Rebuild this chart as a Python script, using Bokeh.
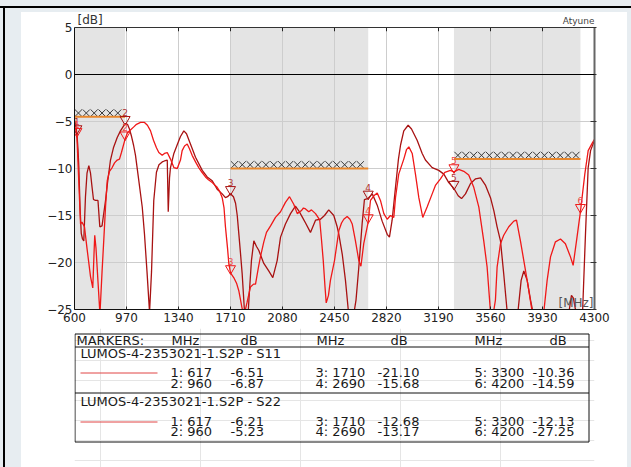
import numpy as np
from bokeh.plotting import figure
from bokeh.layouts import column, row
from bokeh.models import Range1d, LinearAxis, FixedTicker, Span, Label, ColumnDataSource, Div
from bokeh.transform import dodge
from bokeh.core.properties import value
from bokeh.embed import file_html
from bokeh.resources import INLINE

# ---------------- data ----------------
X_TICKS = [600, 970, 1340, 1710, 2080, 2450, 2820, 3190, 3560, 3930, 4300]
Y_TICKS = [-25, -20, -15, -10, -5, 0, 5]

S11_FREQ = [600, 617, 631, 643, 653, 671, 689, 714, 730, 739,
            744, 753, 767, 781, 796, 808, 821, 833, 849, 868,
            885, 904, 920, 934, 960, 977, 998, 1020, 1041, 1070,
            1098, 1119, 1141, 1162, 1183, 1200, 1224, 1240, 1260, 1283,
            1307, 1331, 1354, 1366, 1383, 1402, 1418, 1437, 1461, 1484,
            1507, 1532, 1553, 1580, 1615, 1632, 1651, 1664, 1674, 1689,
            1698, 1710, 1733, 1753, 1769, 1793, 1810, 1827, 1852, 1874,
            1888, 1909, 1923, 1947, 1966, 1995, 2030, 2066, 2101, 2130,
            2160, 2185, 2213, 2229, 2244, 2267, 2286, 2315, 2333, 2345,
            2357, 2370, 2382, 2391, 2407, 2421, 2450, 2481, 2500, 2516,
            2540, 2560, 2576, 2599, 2623, 2638, 2658, 2690, 2706, 2730,
            2754, 2777, 2801, 2825, 2848, 2872, 2884, 2907, 2943, 2962,
            2979, 3003, 3026, 3050, 3078, 3109, 3145, 3168, 3204, 3235,
            3275, 3300, 3334, 3370, 3405, 3441, 3477, 3512, 3536, 3560,
            3574, 3595, 3607, 3631, 3654, 3690, 3726, 3745, 3773, 3797,
            3821, 3857, 3894, 3939, 3963, 3987, 4022, 4058, 4093, 4129,
            4148, 4172, 4200, 4231, 4255, 4284, 4300]
S11_DB = [-5.0, -6.51, -11.6, -15.9, -15.7, -16.2, -18.5, -21.5, -22.7, -19.0,
          -17.1, -18.5, -22.0, -25.5, -21.0, -17.7, -14.0, -11.3, -10.3, -9.9,
          -9.4, -9.1, -9.0, -8.3, -6.87, -6.2, -5.9, -5.6, -5.3, -5.1,
          -5.1, -5.4, -6.0, -7.0, -7.8, -8.3, -8.6, -8.4, -8.3, -9.0,
          -9.9, -10.0, -9.1, -8.1, -7.6, -7.4, -7.9, -8.6, -9.3, -9.9,
          -10.4, -10.9, -11.2, -11.5, -12.0, -12.4, -13.1, -14.2, -16.2, -18.5,
          -20.1, -21.10, -21.6, -22.2, -23.0, -24.9, -25.4, -24.3, -22.6, -22.3,
          -22.3, -20.5, -19.4, -17.8, -16.8, -16.1, -15.2, -14.6, -13.6, -13.0,
          -13.8, -14.8, -14.5, -14.2, -14.3, -14.6, -14.4, -14.8, -15.2, -15.5,
          -17.5, -19.8, -22.5, -24.3, -23.5, -21.9, -19.8, -16.6, -15.8, -15.4,
          -15.1, -15.4, -15.9, -17.7, -19.8, -20.4, -18.0, -15.68, -13.4, -12.9,
          -12.6, -13.4, -14.8, -15.4, -15.0, -15.2, -13.1, -10.6, -9.0, -8.0,
          -7.7, -8.4, -10.6, -13.1, -15.2, -14.1, -12.7, -11.8, -11.1, -10.4,
          -10.2, -10.36, -10.1, -10.3, -10.7, -12.0, -14.1, -17.7, -20.5, -25.3,
          -26.0, -24.0, -20.5, -18.0, -17.1, -16.2, -15.6, -15.5, -17.7, -19.8,
          -21.9, -25.3, -28.0, -25.3, -21.9, -19.4, -17.8, -17.5, -18.0, -19.4,
          -20.3, -17.7, -14.59, -10.6, -8.1, -7.3, -6.9]

S22_FREQ = [600, 617, 625, 631, 639, 648, 657, 666, 678, 689,
            702, 714, 725, 735, 749, 767, 780, 796, 806, 821,
            835, 856, 877, 904, 927, 960, 977, 991, 1006, 1020,
            1034, 1055, 1082, 1098, 1116, 1134, 1148, 1164, 1183, 1201,
            1224, 1240, 1260, 1267, 1276, 1283, 1307, 1333, 1354, 1378,
            1397, 1425, 1461, 1509, 1544, 1580, 1615, 1651, 1674, 1689,
            1710, 1731, 1746, 1758, 1769, 1781, 1793, 1810, 1831, 1845,
            1859, 1876, 1895, 1911, 1947, 1982, 2011, 2042, 2066, 2101,
            2137, 2172, 2196, 2222, 2244, 2279, 2315, 2350, 2379, 2409,
            2445, 2469, 2481, 2505, 2528, 2547, 2571, 2603, 2623, 2647,
            2663, 2690, 2719, 2754, 2789, 2825, 2841, 2860, 2884, 2905,
            2920, 2943, 2974, 2998, 3038, 3074, 3097, 3145, 3192, 3228,
            3263, 3300, 3330, 3354, 3382, 3418, 3454, 3489, 3525, 3560,
            3584, 3607, 3631, 3654, 3679, 3716, 3755, 3778, 3797, 3821,
            3845, 3862, 3987, 4118, 4136, 4150, 4168, 4200, 4215, 4236,
            4255, 4272, 4300]
S22_DB = [-4.8, -6.21, -8.0, -9.9, -14.0, -16.9, -17.5, -17.7, -13.0, -10.5,
          -9.7, -10.5, -12.0, -13.3, -13.4, -13.4, -16.2, -16.1, -15.0, -13.4,
          -11.5, -9.1, -7.8, -6.7, -6.0, -5.23, -5.3, -5.8, -6.6, -7.5,
          -8.6, -11.0, -14.1, -17.0, -21.0, -25.3, -21.0, -13.4, -10.4, -9.6,
          -9.3, -9.2, -9.1, -14.6, -11.0, -9.9, -8.4, -7.4, -6.6, -6.0,
          -6.3, -7.4, -8.8, -10.2, -10.9, -11.3, -12.2, -12.7, -13.1, -13.0,
          -12.68, -13.0, -13.7, -15.0, -16.9, -19.0, -21.2, -25.3, -26.5, -23.0,
          -19.8, -17.7, -18.3, -18.7, -20.1, -20.9, -21.6, -19.8, -17.3, -15.9,
          -14.8, -14.0, -14.5, -15.2, -15.8, -16.8, -15.5, -15.4, -15.0, -14.4,
          -15.0, -16.2, -17.0, -19.1, -21.9, -24.9, -27.0, -24.0, -20.5, -15.8,
          -13.3, -13.17, -12.7, -13.9, -15.6, -17.0, -17.3, -15.5, -12.0, -9.0,
          -7.5, -6.0, -5.4, -5.8, -7.0, -8.4, -9.1, -9.9, -10.2, -10.6,
          -11.5, -12.13, -12.9, -13.2, -12.7, -11.6, -11.1, -11.0, -11.8, -13.1,
          -14.5, -16.2, -17.7, -21.2, -25.3, -26.5, -25.3, -21.9, -20.9, -21.9,
          -24.0, -25.3, -28.0, -25.3, -23.5, -23.8, -25.3, -27.25, -25.3, -16.9,
          -9.9, -8.1, -7.0]

MARKER_FREQ = [617, 960, 1710, 2690, 3300, 4200]
S11_MARKER_DB = [-6.51, -6.87, -21.10, -15.68, -10.36, -14.59]
S22_MARKER_DB = [-6.21, -5.23, -12.68, -13.17, -12.13, -27.25]

BAND_START = [600, 1710, 3300]
BAND_END = [960, 2690, 4200]
BAND_LIMIT = [-4.5, -10.0, -9.0]

TRACE_NAMES = ["LUMOS-4-2353021-1.S2P - S11", "LUMOS-4-2353021-1.S2P - S22"]
HEADER = ["MARKERS:", "MHz", "dB", "MHz", "dB", "MHz", "dB"]

# ---------------- styles ----------------
FONT = "DejaVu Sans"
BG = "#e7edf1"
BRIGHT = "#f01818"
DARK = "#a81212"
GRID = "#cdcdcd"
HATCH_STEP = 56     # MHz between hatch crosses
HATCH_RISE = 0.40   # dB above the limit line
TOP_PAD = 15 / 9.4  # head-room above the top tick (dB) for the unit labels
TICK_DB = 0.4       # length of the inner top ticks (dB)

Y_LO, Y_HI = Y_TICKS[0], Y_TICKS[-1]

# ---------------- chart ----------------
p = figure(frame_width=520, frame_height=297,
           x_range=Range1d(X_TICKS[0], X_TICKS[-1]), y_range=Range1d(Y_LO, Y_HI + TOP_PAD),
           output_backend="svg", toolbar_location=None,
           min_border_left=53, min_border_right=33, min_border_top=0, min_border_bottom=19,
           border_fill_color="white", background_fill_color="white",
           outline_line_color=None)

for ax in (p.xaxis[0], p.yaxis[0]):
    ax.major_label_text_font = FONT
    ax.major_label_text_font_size = "12px"
    ax.major_label_text_color = "#222222"
    ax.minor_tick_line_color = None
    ax.axis_line_color = "#111111"
    ax.major_tick_line_color = "#222222"
p.xaxis.ticker = X_TICKS
p.yaxis.ticker = Y_TICKS
p.yaxis.bounds = (Y_LO, Y_HI)
p.xaxis.major_tick_in = 3
p.xaxis.major_tick_out = 0
p.xaxis.major_label_standoff = 3
p.yaxis.major_tick_in = 0
p.yaxis.major_tick_out = 0
p.yaxis.major_label_standoff = 2
p.xgrid.visible = False
p.ygrid.grid_line_color = GRID

right_axis = LinearAxis(ticker=FixedTicker(ticks=Y_TICKS), bounds=(Y_LO, Y_HI),
                        major_tick_in=4, major_tick_out=2,
                        minor_tick_line_color=None, major_label_text_font_size="1px",
                        major_label_text_color=None, major_label_standoff=0,
                        axis_line_color="#666666", axis_line_width=2,
                        major_tick_line_color="#333333")
p.add_layout(right_axis, "right")

bands = ColumnDataSource(dict(left=BAND_START, right=BAND_END, limit=BAND_LIMIT))
p.quad(left="left", right="right", top=Y_HI, bottom=Y_LO, source=bands,
       fill_color="#e4e4e4", line_color=None, level="image")

# vertical grid lines, limited to the plotted dB span
p.segment(x0=X_TICKS, x1=X_TICKS, y0=Y_LO, y1=Y_HI, line_color=GRID, line_width=1,
          level="underlay")
# top frame line with inner ticks
p.add_layout(Span(location=Y_HI, dimension="width", line_color="#333333", line_width=1))
p.segment(x0=X_TICKS, x1=X_TICKS, y0=Y_HI, y1=Y_HI - TICK_DB, line_color="#222222",
          line_width=1)

hx, hy = [], []
for s, e, lim in zip(BAND_START, BAND_END, BAND_LIMIT):
    xs = np.arange(s + HATCH_STEP / 2, e, HATCH_STEP)
    hx += list(xs)
    hy += [lim + HATCH_RISE] * len(xs)
p.scatter(hx, hy, marker="x", size=10, line_color="#3a3a3a", line_width=1)
p.segment(x0="left", x1="right", y0="limit", y1="limit", source=bands,
          line_color="#e8872c", line_width=2)

p.add_layout(Span(location=0, dimension="width", line_color="black", line_width=1))

p.line(S22_FREQ, S22_DB, line_color=DARK, line_width=1.3)
p.line(S11_FREQ, S11_DB, line_color=BRIGHT, line_width=1.3)

labels = [str(i + 1) for i in range(len(MARKER_FREQ))]
for vals, col, tcol in ((S22_MARKER_DB, DARK, "#b03434"), (S11_MARKER_DB, BRIGHT, "#f04848")):
    src = ColumnDataSource(dict(f=MARKER_FREQ, db=vals, lab=labels))
    p.scatter(x="f", y=dodge("db", 0.45), source=src, marker="inverted_triangle", size=10,
              line_color=col, fill_color=None, line_width=1)
    p.text(x="f", y=dodge("db", 1.2), text="lab", source=src, text_font=value(FONT),
           text_font_size="9px", text_align="center", text_baseline="middle", text_color=tcol)

p.add_layout(Label(x=X_TICKS[0], y=Y_HI, text="[dB]", x_offset=3, y_offset=1,
                   text_baseline="bottom", text_font=FONT, text_font_size="12px",
                   text_color="#333333"))
p.add_layout(Label(x=X_TICKS[-1], y=Y_HI, text="Atyune", x_offset=0, y_offset=2,
                   text_align="right", text_baseline="bottom", text_font=FONT,
                   text_font_size="9px", text_color="#444444"))
p.add_layout(Label(x=X_TICKS[-1], y=Y_LO, text="[MHz]", x_offset=-1, y_offset=0,
                   text_align="right", text_baseline="bottom", text_font=FONT,
                   text_font_size="12px", text_color="#555555"))

# ---------------- marker table ----------------
t = figure(frame_width=520, frame_height=139, x_range=Range1d(74, 594), y_range=Range1d(467, 328),
           min_border_left=53, min_border_right=33, min_border_top=0, min_border_bottom=0,
           x_axis_location=None, y_axis_location=None, toolbar_location=None,
           output_backend="svg", outline_line_color=None,
           border_fill_color="white", background_fill_color="white")
t.quad(left=74.5, right=588.5, top=333.5, bottom=441.5, fill_color=None, line_color="#111111")
t.segment(x0=[74.5, 74.5], x1=[588.5, 588.5], y0=[346.5, 392.5], y1=[346.5, 392.5],
          line_color="#111111")
t.segment(x0=[80, 80], x1=[157, 157], y0=[372.5, 421.5], y1=[372.5, 421.5],
          line_color="#e04444", line_width=1)

tx, ty, tt = [], [], []
for x, h in zip([76, 171, 240, 316, 390, 474, 549], HEADER):
    tx.append(x); ty.append(339.5); tt.append(h)
for k, (name, vals) in enumerate(zip(TRACE_NAMES, (S11_MARKER_DB, S22_MARKER_DB))):
    base = 352.5 + k * 48.5
    tx.append(80); ty.append(base); tt.append(name)
    for i, (f, v) in enumerate(zip(MARKER_FREQ, vals)):
        c, r = i // 2, i % 2
        yy = base + 19.5 + r * 10.5
        tx.append([170, 315, 474][c]); ty.append(yy); tt.append(f"{i + 1}: {f}")
        tx.append([230, 377, 532][c]); ty.append(yy); tt.append(f"{v:.2f}")
t.text(x=tx, y=ty, text=tt, text_font=value(FONT), text_font_size="13px",
       text_align="left", text_baseline="middle", text_color="#1a1a1a")


# ---------------- page frame ----------------
def block(w, h, color):
    return Div(width=w, height=h, margin=0, styles={"background-color": color, "padding": "0"})


layout = column(
    block(631, 6, BG),
    block(631, 2, "black"),
    row(block(3, 459, BG), block(2, 459, "black"), block(16, 459, BG),
        column(block(606, 4, BG), p, t, spacing=0),
        block(4, 459, BG), spacing=0),
    spacing=0,
)
open("out.html", "w").write(file_html(layout, INLINE))
